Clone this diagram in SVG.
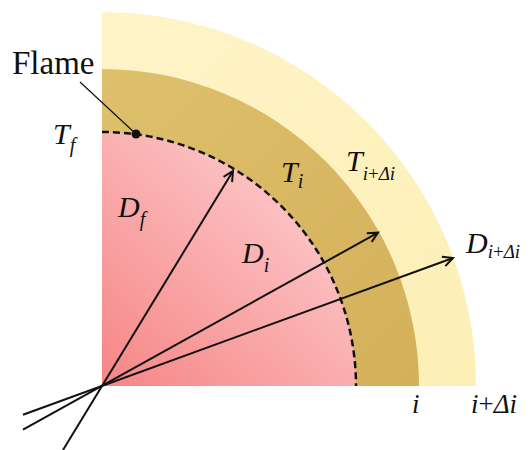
<svg xmlns="http://www.w3.org/2000/svg" width="530" height="450" viewBox="0 0 530 450">
<style>
.t{font-family:"Liberation Serif","Times New Roman",serif;fill:#111}
.it{font-style:italic}
.up{font-style:normal}
.ray{stroke:#111;stroke-width:2;fill:none}
</style>
<defs>
<linearGradient id="pink" gradientUnits="userSpaceOnUse" x1="102" y1="386" x2="300" y2="170">
<stop offset="0" stop-color="#f68586"/><stop offset="1" stop-color="#fdc9ca"/>
</linearGradient>
<linearGradient id="brown" gradientUnits="userSpaceOnUse" x1="102" y1="69" x2="419" y2="386">
<stop offset="0" stop-color="#dec06c"/><stop offset="1" stop-color="#d4b05a"/>
</linearGradient>
<linearGradient id="yellow" gradientUnits="userSpaceOnUse" x1="102" y1="12" x2="476" y2="386">
<stop offset="0" stop-color="#fff4c8"/><stop offset="1" stop-color="#fcefb6"/>
</linearGradient>
<marker id="arr" markerUnits="userSpaceOnUse" markerWidth="14" markerHeight="14" refX="11" refY="6" orient="auto">
<path d="M1,1 L11,6 L1,11" fill="none" stroke="#111" stroke-width="2"/>
</marker>
</defs>
<g id="outer-layer">
<path d="M102,386 L102,12 A374,374 0 0 1 476,386 Z" fill="url(#yellow)"/>
</g>
<g id="inner-layer">
<path d="M102,386 L102,69 A317,317 0 0 1 419,386 Z" fill="url(#brown)"/>
</g>
<g id="core">
<path d="M102,386 L102,132 A254,254 0 0 1 356,386 Z" fill="url(#pink)"/>
</g>
<g id="flame-front">
<path d="M102,132 A254,254 0 0 1 356,386" fill="none" stroke="#111" stroke-width="2.5" stroke-dasharray="7,4"/>
<circle cx="136" cy="134" r="4.5" fill="#111"/>
</g>
<g id="connectors">
<line x1="80" y1="82" x2="136" y2="134" stroke="#111" stroke-width="1.2"/>
<line class="ray" x1="63" y1="450" x2="233" y2="171" marker-end="url(#arr)"/>
<line class="ray" x1="23" y1="429.6" x2="378" y2="232.7" marker-end="url(#arr)"/>
<line class="ray" x1="23" y1="414.7" x2="453" y2="258" marker-end="url(#arr)"/>
</g>
<g id="labels">
<text class="t" x="12" y="74" font-size="33">Flame</text>
<text class="t it" x="53" y="144" font-size="30">T<tspan font-size="20" dy="8">f</tspan></text>
<text class="t it" x="118" y="217" font-size="30">D<tspan font-size="20" dy="9">f</tspan></text>
<text class="t it" x="242" y="263" font-size="30">D<tspan font-size="20" dy="9">i</tspan></text>
<text class="t it" x="281" y="182" font-size="30">T<tspan font-size="20" dy="6">i</tspan></text>
<text class="t it" x="346" y="171" font-size="30">T<tspan font-size="19" dy="9">i</tspan><tspan class="up" font-size="19">+</tspan><tspan font-size="19">Δi</tspan></text>
<text class="t it" x="466" y="253" font-size="30">D<tspan font-size="19" dy="5">i</tspan><tspan class="up" font-size="19">+</tspan><tspan font-size="19">Δi</tspan></text>
<text class="t it" x="412" y="413" font-size="27">i</text>
<text class="t it" x="471" y="413" font-size="27">i<tspan class="up">+</tspan>Δi</text>
</g>
</svg>
